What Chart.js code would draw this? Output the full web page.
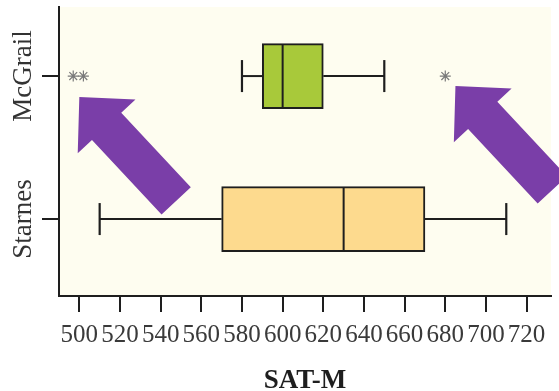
<!DOCTYPE html>
<html>
<head>
<meta charset="utf-8">
<script src="https://cdn.jsdelivr.net/npm/chart.js@4"></script>
<style>
  html, body { margin: 0; padding: 0; background: #ffffff; }
  #chart { display: block; width: 559px; height: 391px; }
</style>
</head>
<body>
<canvas id="chart" width="559" height="391"></canvas>
<script>
// five-number summaries, one entry per school (top to bottom)
const groups = ['McGrail', 'Starnes'];
const lowWhisker = [580, 510];
const q1 = [590, 570];
const median = [600, 630];
const q3 = [620, 670];
const highWhisker = [650, 710];
const outliers = [[497, 502, 680], []];
const xTicks = [500, 520, 540, 560, 580, 600, 620, 640, 660, 680, 700, 720];

const boxColors = ['#a8c93a', '#fdda8e'];
const ink = '#1e1e1e';

// fond crème de la zone de tracé
const areaFill = {
  id: 'areaFill',
  beforeDraw(chart) {
    const { ctx, chartArea: a } = chart;
    ctx.save();
    ctx.fillStyle = '#fefdf0';
    ctx.fillRect(a.left, a.top, a.right - a.left, a.bottom - a.top);
    ctx.restore();
  }
};

// rotated group names on the y axis
const groupLabels = {
  id: 'groupLabels',
  afterDraw(chart) {
    const { ctx } = chart;
    const yScale = chart.scales.y;
    ctx.save();
    ctx.font = '27px "Liberation Serif", serif';
    ctx.fillStyle = '#333333';
    ctx.textAlign = 'center';
    ctx.textBaseline = 'alphabetic';
    groups.forEach((g, i) => {
      ctx.save();
      ctx.translate(31, yScale.getPixelForValue(i));
      ctx.rotate(-Math.PI / 2);
      ctx.fillText(g, 0, 0);
      ctx.restore();
    });
    ctx.restore();
  }
};

// the two purple arrows pointing at the outliers
const arrowNotes = [
  { value: 500, group: 0, dy: 21 },
  { value: 685, group: 0, dy: 10 }
];
const arrows = {
  id: 'arrows',
  afterDraw(chart) {
    const { ctx } = chart;
    const xs = chart.scales.x;
    const ys = chart.scales.y;
    const len = 142, shaft = 20, head = 39.5, headLen = 40;
    const ang = 47 * Math.PI / 180;
    ctx.save();
    ctx.fillStyle = '#7a3ea8';
    arrowNotes.forEach(a => {
      const tx = xs.getPixelForValue(a.value);
      const ty = ys.getPixelForValue(a.group) + a.dy;
      ctx.save();
      ctx.translate(tx, ty);
      ctx.rotate(ang);
      ctx.beginPath();
      ctx.moveTo(0, 0);
      ctx.lineTo(headLen, head);
      ctx.lineTo(headLen, shaft);
      ctx.lineTo(len, shaft);
      ctx.lineTo(len, -shaft);
      ctx.lineTo(headLen, -shaft);
      ctx.lineTo(headLen, -head);
      ctx.closePath();
      ctx.fill();
      ctx.restore();
    });
    ctx.restore();
  }
};

const datasets = [];

datasets.push({
  type: 'bar',
  data: groups.map((g, i) => ({ x: [q1[i], q3[i]], y: i })),
  backgroundColor: boxColors,
  borderColor: ink,
  borderWidth: 2,
  borderSkipped: false,
  barThickness: 65,
  order: 1
});

datasets.push({
  type: 'line',
  data: groups.map((g, i) => ({ x: median[i], y: i })),
  showLine: false,
  pointStyle: 'line',
  pointRotation: 90,
  pointRadius: 32,
  pointBorderColor: ink,
  pointBorderWidth: 2,
  order: 0
});

groups.forEach((g, i) => {
  [[lowWhisker[i], q1[i]], [highWhisker[i], q3[i]]].forEach(seg => {
    datasets.push({
      type: 'line',
      data: seg.map(v => ({ x: v, y: i })),
      borderColor: ink,
      borderWidth: 2,
      fill: false,
      pointStyle: 'line',
      pointRotation: 90,
      pointRadius: [16, 0],
      pointBorderColor: ink,
      pointBorderWidth: 2.2,
      order: 2
    });
  });
});

datasets.push({
  type: 'line',
  data: outliers.flatMap((arr, i) => arr.map(v => ({ x: v, y: i }))),
  showLine: false,
  pointStyle: 'star',
  pointRadius: 5.5,
  pointBorderColor: '#7a7a7a',
  pointBorderWidth: 1.2,
  order: 0
});

new Chart(document.getElementById('chart'), {
  type: 'bar',
  data: { datasets },
  plugins: [areaFill, groupLabels, arrows],
  options: {
    indexAxis: 'y',
    responsive: false,
    animation: false,
    events: [],
    layout: { autoPadding: false, padding: { top: 7, right: 8, left: 0, bottom: 0 } },
    plugins: {
      legend: { display: false },
      tooltip: { enabled: false }
    },
    scales: {
      x: {
        type: 'linear',
        position: 'bottom',
        offset: false,
        min: 490,
        max: 732,
        afterBuildTicks: s => { s.ticks = xTicks.map(v => ({ value: v })); },
        afterFit: s => { s.height = 95; },
        ticks: {
          font: { family: 'Liberation Serif', size: 25 },
          color: '#3a3a3a',
          padding: 8,
          autoSkip: false,
          maxRotation: 0
        },
        grid: { offset: false, drawOnChartArea: false, tickLength: 16, color: ink, lineWidth: 2 },
        border: { color: ink, width: 2 },
        title: {
          display: true,
          text: 'SAT-M',
          color: ink,
          padding: 0,
          font: { family: 'Liberation Serif', size: 27, weight: 'bold', lineHeight: 0.76 }
        }
      },
      y: {
        type: 'linear',
        reverse: true,
        offset: false,
        min: -0.483,
        max: 1.538,
        afterBuildTicks: s => { s.ticks = groups.map((g, i) => ({ value: i })); },
        afterFit: s => { s.width = 59; },
        ticks: { display: false },
        grid: { offset: false, drawOnChartArea: false, tickLength: 17, color: ink, lineWidth: 2 },
        border: { color: ink, width: 2 }
      }
    }
  }
});
</script>
</body>
</html>
